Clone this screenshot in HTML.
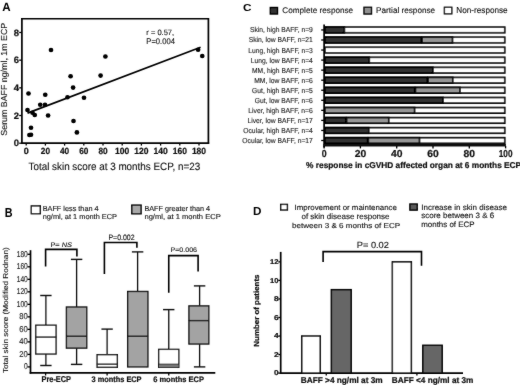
<!DOCTYPE html>
<html><head><meta charset="utf-8"><style>
html,body{margin:0;padding:0;background:#fff;}
svg{display:block;font-family:"Liberation Sans", sans-serif;will-change:transform;text-rendering:geometricPrecision;}
</style></head><body>
<svg width="520" height="385" viewBox="0 0 520 385">
<defs><filter id="bl" x="0" y="0" width="520" height="385" filterUnits="userSpaceOnUse"><feConvolveMatrix order="3" kernelMatrix="1 2 1 2 40 2 1 2 1" divisor="52" edgeMode="duplicate"/></filter></defs>
<rect width="520" height="385" fill="#fff"/>
<g filter="url(#bl)">
<text x="2.35" y="11.07" font-size="11.95" font-weight="700" fill="#000" stroke="#000" stroke-width="0" textLength="8.40" lengthAdjust="spacingAndGlyphs">A</text>
<polyline points="21.90,18.75 208.40,18.75 208.40,143.00" fill="none" stroke="#000" stroke-width="1.7" stroke-linejoin="miter" stroke-linecap="square"/>
<line x1="21.90" y1="18.00" x2="21.90" y2="143.80" stroke="#000" stroke-width="1.7"/>
<line x1="21.10" y1="143.20" x2="209.20" y2="143.20" stroke="#000" stroke-width="1.7"/>
<line x1="19.20" y1="143.20" x2="21.90" y2="143.20" stroke="#000" stroke-width="1.3"/>
<text x="13.75" y="146.27" font-size="9.20" font-weight="700" fill="#111" stroke="#111" stroke-width="0.22" textLength="5.30" lengthAdjust="spacingAndGlyphs">0</text>
<line x1="19.20" y1="115.52" x2="21.90" y2="115.52" stroke="#000" stroke-width="1.3"/>
<text x="13.75" y="118.59" font-size="9.20" font-weight="700" fill="#111" stroke="#111" stroke-width="0.22" textLength="5.30" lengthAdjust="spacingAndGlyphs">2</text>
<line x1="19.20" y1="87.84" x2="21.90" y2="87.84" stroke="#000" stroke-width="1.3"/>
<text x="13.75" y="90.91" font-size="9.34" font-weight="700" fill="#111" stroke="#111" stroke-width="0.22" textLength="5.30" lengthAdjust="spacingAndGlyphs">4</text>
<line x1="19.20" y1="60.16" x2="21.90" y2="60.16" stroke="#000" stroke-width="1.3"/>
<text x="13.75" y="63.23" font-size="9.20" font-weight="700" fill="#111" stroke="#111" stroke-width="0.22" textLength="5.30" lengthAdjust="spacingAndGlyphs">6</text>
<line x1="19.20" y1="32.48" x2="21.90" y2="32.48" stroke="#000" stroke-width="1.3"/>
<text x="13.75" y="35.55" font-size="9.20" font-weight="700" fill="#111" stroke="#111" stroke-width="0.22" textLength="5.30" lengthAdjust="spacingAndGlyphs">8</text>
<line x1="26.20" y1="143.00" x2="26.20" y2="145.60" stroke="#000" stroke-width="1.3"/>
<text x="23.70" y="154.07" font-size="9.06" font-weight="700" fill="#111" stroke="#111" stroke-width="0.22" textLength="5.00" lengthAdjust="spacingAndGlyphs">0</text>
<line x1="45.40" y1="143.00" x2="45.40" y2="145.60" stroke="#000" stroke-width="1.3"/>
<text x="40.80" y="154.07" font-size="9.06" font-weight="700" fill="#111" stroke="#111" stroke-width="0.22" textLength="9.20" lengthAdjust="spacingAndGlyphs">20</text>
<line x1="64.60" y1="143.00" x2="64.60" y2="145.60" stroke="#000" stroke-width="1.3"/>
<text x="60.00" y="154.07" font-size="9.06" font-weight="700" fill="#111" stroke="#111" stroke-width="0.22" textLength="9.20" lengthAdjust="spacingAndGlyphs">40</text>
<line x1="83.80" y1="143.00" x2="83.80" y2="145.60" stroke="#000" stroke-width="1.3"/>
<text x="79.20" y="154.07" font-size="9.06" font-weight="700" fill="#111" stroke="#111" stroke-width="0.22" textLength="9.20" lengthAdjust="spacingAndGlyphs">60</text>
<line x1="103.00" y1="143.00" x2="103.00" y2="145.60" stroke="#000" stroke-width="1.3"/>
<text x="98.40" y="154.07" font-size="9.06" font-weight="700" fill="#111" stroke="#111" stroke-width="0.22" textLength="9.20" lengthAdjust="spacingAndGlyphs">80</text>
<line x1="122.20" y1="143.00" x2="122.20" y2="145.60" stroke="#000" stroke-width="1.3"/>
<text x="115.10" y="154.07" font-size="9.06" font-weight="700" fill="#111" stroke="#111" stroke-width="0.22" textLength="14.20" lengthAdjust="spacingAndGlyphs">100</text>
<line x1="141.40" y1="143.00" x2="141.40" y2="145.60" stroke="#000" stroke-width="1.3"/>
<text x="134.30" y="154.07" font-size="9.06" font-weight="700" fill="#111" stroke="#111" stroke-width="0.22" textLength="14.20" lengthAdjust="spacingAndGlyphs">120</text>
<line x1="160.60" y1="143.00" x2="160.60" y2="145.60" stroke="#000" stroke-width="1.3"/>
<text x="153.50" y="154.07" font-size="9.06" font-weight="700" fill="#111" stroke="#111" stroke-width="0.22" textLength="14.20" lengthAdjust="spacingAndGlyphs">140</text>
<line x1="179.80" y1="143.00" x2="179.80" y2="145.60" stroke="#000" stroke-width="1.3"/>
<text x="172.70" y="154.07" font-size="9.06" font-weight="700" fill="#111" stroke="#111" stroke-width="0.22" textLength="14.20" lengthAdjust="spacingAndGlyphs">160</text>
<line x1="199.00" y1="143.00" x2="199.00" y2="145.60" stroke="#000" stroke-width="1.3"/>
<text x="191.90" y="154.07" font-size="9.06" font-weight="700" fill="#111" stroke="#111" stroke-width="0.22" textLength="14.20" lengthAdjust="spacingAndGlyphs">180</text>
<text x="28.55" y="169.57" font-size="10.52" font-weight="400" fill="#111" stroke="#111" stroke-width="0.12" textLength="171.60" lengthAdjust="spacingAndGlyphs">Total skin score at 3 months ECP, n=23</text>
<text x="0" y="0" transform="translate(7.28 135.65) rotate(-90)" font-size="8.72" font-weight="400" fill="#111" stroke="#111" stroke-width="0.12" textLength="112.80" lengthAdjust="spacingAndGlyphs">Serum BAFF ng/ml, 1m ECP</text>
<circle cx="51.00" cy="50.00" r="2.35" fill="#000"/>
<circle cx="70.60" cy="76.25" r="2.35" fill="#000"/>
<circle cx="73.10" cy="87.60" r="2.35" fill="#000"/>
<circle cx="28.50" cy="93.50" r="2.35" fill="#000"/>
<circle cx="45.25" cy="94.75" r="2.35" fill="#000"/>
<circle cx="40.25" cy="104.75" r="2.35" fill="#000"/>
<circle cx="45.00" cy="104.75" r="2.35" fill="#000"/>
<circle cx="67.50" cy="97.25" r="2.35" fill="#000"/>
<circle cx="84.00" cy="97.75" r="2.35" fill="#000"/>
<circle cx="27.50" cy="110.00" r="2.35" fill="#000"/>
<circle cx="32.50" cy="112.75" r="2.35" fill="#000"/>
<circle cx="34.75" cy="115.00" r="2.35" fill="#000"/>
<circle cx="48.10" cy="115.50" r="2.35" fill="#000"/>
<circle cx="73.50" cy="121.00" r="2.35" fill="#000"/>
<circle cx="31.00" cy="127.75" r="2.35" fill="#000"/>
<circle cx="76.90" cy="132.40" r="2.35" fill="#000"/>
<circle cx="29.40" cy="135.00" r="2.35" fill="#000"/>
<circle cx="31.00" cy="134.75" r="2.35" fill="#000"/>
<circle cx="100.60" cy="75.60" r="2.35" fill="#000"/>
<circle cx="105.40" cy="56.50" r="2.35" fill="#000"/>
<circle cx="198.10" cy="49.75" r="2.35" fill="#000"/>
<circle cx="202.25" cy="56.00" r="2.35" fill="#000"/>
<line x1="27.50" y1="113.10" x2="200.60" y2="47.25" stroke="#000" stroke-width="1.7"/>
<text x="146.35" y="35.48" font-size="7.70" font-weight="400" fill="#111" stroke="#111" stroke-width="0.12" textLength="27.80" lengthAdjust="spacingAndGlyphs">r = 0.57,</text>
<text x="146.35" y="43.58" font-size="8.20" font-weight="400" fill="#111" stroke="#111" stroke-width="0.12" textLength="28.55" lengthAdjust="spacingAndGlyphs">P=0.004</text>
<text x="242.95" y="10.67" font-size="10.14" font-weight="700" fill="#000" stroke="#000" stroke-width="0" textLength="8.45" lengthAdjust="spacingAndGlyphs">C</text>
<rect x="270.30" y="7.50" width="7.20" height="6.50" fill="#333" stroke="#000" stroke-width="1.4"/>
<text x="282.35" y="12.97" font-size="8.17" font-weight="400" fill="#111" stroke="#111" stroke-width="0.12" textLength="70.80" lengthAdjust="spacingAndGlyphs">Complete response</text>
<rect x="364.00" y="7.30" width="7.50" height="6.70" fill="#909090" stroke="#000" stroke-width="1.4"/>
<text x="376.10" y="12.97" font-size="8.17" font-weight="400" fill="#111" stroke="#111" stroke-width="0.12" textLength="59.05" lengthAdjust="spacingAndGlyphs">Partial response</text>
<rect x="444.40" y="7.30" width="7.40" height="6.50" fill="#fff" stroke="#000" stroke-width="1.4"/>
<text x="456.35" y="12.97" font-size="8.61" font-weight="400" fill="#111" stroke="#111" stroke-width="0.12" textLength="51.30" lengthAdjust="spacingAndGlyphs">Non-response</text>
<rect x="324.95" y="27.15" width="179.80" height="5.60" fill="#fff" stroke="#000" stroke-width="1.7"/>
<rect x="324.95" y="27.15" width="19.45" height="5.60" fill="#333" stroke="#000" stroke-width="1.7"/>
<line x1="321.20" y1="29.95" x2="324.10" y2="29.95" stroke="#000" stroke-width="1.3"/>
<text x="249.95" y="32.43" font-size="7.21" font-weight="400" fill="#222" stroke="#222" stroke-width="0.12" textLength="62.90" lengthAdjust="spacingAndGlyphs">Skin, high BAFF, n=9</text>
<rect x="324.95" y="37.20" width="179.80" height="5.60" fill="#fff" stroke="#000" stroke-width="1.7"/>
<rect x="324.95" y="37.20" width="96.30" height="5.60" fill="#333" stroke="#000" stroke-width="1.7"/>
<rect x="422.10" y="37.20" width="30.40" height="5.60" fill="#969696" stroke="#000" stroke-width="1.7"/>
<line x1="321.20" y1="40.00" x2="324.10" y2="40.00" stroke="#000" stroke-width="1.3"/>
<text x="248.65" y="42.48" font-size="7.21" font-weight="400" fill="#222" stroke="#222" stroke-width="0.12" textLength="64.20" lengthAdjust="spacingAndGlyphs">Skin, low BAFF, n=21</text>
<rect x="324.95" y="47.25" width="179.80" height="5.60" fill="#fff" stroke="#000" stroke-width="1.7"/>
<line x1="321.20" y1="50.05" x2="324.10" y2="50.05" stroke="#000" stroke-width="1.3"/>
<text x="248.25" y="52.52" font-size="7.21" font-weight="400" fill="#222" stroke="#222" stroke-width="0.12" textLength="64.60" lengthAdjust="spacingAndGlyphs">Lung, high BAFF, n=3</text>
<rect x="324.95" y="57.30" width="179.80" height="5.60" fill="#fff" stroke="#000" stroke-width="1.7"/>
<rect x="324.95" y="57.30" width="44.35" height="5.60" fill="#333" stroke="#000" stroke-width="1.7"/>
<line x1="321.20" y1="60.10" x2="324.10" y2="60.10" stroke="#000" stroke-width="1.3"/>
<text x="250.85" y="62.58" font-size="7.21" font-weight="400" fill="#222" stroke="#222" stroke-width="0.12" textLength="62.00" lengthAdjust="spacingAndGlyphs">Lung, low BAFF, n=4</text>
<rect x="324.95" y="67.35" width="179.80" height="5.60" fill="#fff" stroke="#000" stroke-width="1.7"/>
<rect x="324.95" y="67.35" width="107.95" height="5.60" fill="#333" stroke="#000" stroke-width="1.7"/>
<line x1="321.20" y1="70.15" x2="324.10" y2="70.15" stroke="#000" stroke-width="1.3"/>
<text x="252.05" y="72.63" font-size="7.21" font-weight="400" fill="#222" stroke="#222" stroke-width="0.12" textLength="60.80" lengthAdjust="spacingAndGlyphs">MM, high BAFF, n=5</text>
<rect x="324.95" y="77.40" width="179.80" height="5.60" fill="#fff" stroke="#000" stroke-width="1.7"/>
<rect x="324.95" y="77.40" width="102.30" height="5.60" fill="#333" stroke="#000" stroke-width="1.7"/>
<rect x="428.10" y="77.40" width="24.65" height="5.60" fill="#969696" stroke="#000" stroke-width="1.7"/>
<line x1="321.20" y1="80.20" x2="324.10" y2="80.20" stroke="#000" stroke-width="1.3"/>
<text x="254.25" y="82.68" font-size="7.21" font-weight="400" fill="#222" stroke="#222" stroke-width="0.12" textLength="58.60" lengthAdjust="spacingAndGlyphs">MM, low BAFF, n=6</text>
<rect x="324.95" y="87.45" width="179.80" height="5.60" fill="#fff" stroke="#000" stroke-width="1.7"/>
<rect x="324.95" y="87.45" width="89.65" height="5.60" fill="#333" stroke="#000" stroke-width="1.7"/>
<rect x="415.45" y="87.45" width="44.55" height="5.60" fill="#969696" stroke="#000" stroke-width="1.7"/>
<line x1="321.20" y1="90.25" x2="324.10" y2="90.25" stroke="#000" stroke-width="1.3"/>
<text x="252.05" y="92.73" font-size="7.21" font-weight="400" fill="#222" stroke="#222" stroke-width="0.12" textLength="60.80" lengthAdjust="spacingAndGlyphs">Gut, high BAFF, n=5</text>
<rect x="324.95" y="97.50" width="179.80" height="5.60" fill="#fff" stroke="#000" stroke-width="1.7"/>
<rect x="324.95" y="97.50" width="118.15" height="5.60" fill="#333" stroke="#000" stroke-width="1.7"/>
<line x1="321.20" y1="100.30" x2="324.10" y2="100.30" stroke="#000" stroke-width="1.3"/>
<text x="254.75" y="102.78" font-size="7.21" font-weight="400" fill="#222" stroke="#222" stroke-width="0.12" textLength="58.10" lengthAdjust="spacingAndGlyphs">Gut, low BAFF, n=6</text>
<rect x="324.95" y="107.55" width="179.80" height="5.60" fill="#fff" stroke="#000" stroke-width="1.7"/>
<rect x="324.95" y="107.55" width="89.65" height="5.60" fill="#969696" stroke="#000" stroke-width="1.7"/>
<line x1="321.20" y1="110.35" x2="324.10" y2="110.35" stroke="#000" stroke-width="1.3"/>
<text x="248.25" y="112.83" font-size="7.21" font-weight="400" fill="#222" stroke="#222" stroke-width="0.12" textLength="64.60" lengthAdjust="spacingAndGlyphs">Liver, high BAFF, n=6</text>
<rect x="324.95" y="117.60" width="179.80" height="5.60" fill="#fff" stroke="#000" stroke-width="1.7"/>
<rect x="324.95" y="117.60" width="20.80" height="5.60" fill="#333" stroke="#000" stroke-width="1.7"/>
<rect x="346.60" y="117.60" width="42.15" height="5.60" fill="#969696" stroke="#000" stroke-width="1.7"/>
<line x1="321.20" y1="120.40" x2="324.10" y2="120.40" stroke="#000" stroke-width="1.3"/>
<text x="247.45" y="122.88" font-size="7.21" font-weight="400" fill="#222" stroke="#222" stroke-width="0.12" textLength="65.40" lengthAdjust="spacingAndGlyphs">Liver, low BAFF, n=17</text>
<rect x="324.95" y="127.65" width="179.80" height="5.60" fill="#fff" stroke="#000" stroke-width="1.7"/>
<rect x="324.95" y="127.65" width="43.80" height="5.60" fill="#333" stroke="#000" stroke-width="1.7"/>
<line x1="321.20" y1="130.45" x2="324.10" y2="130.45" stroke="#000" stroke-width="1.3"/>
<text x="243.25" y="132.92" font-size="7.21" font-weight="400" fill="#222" stroke="#222" stroke-width="0.12" textLength="69.60" lengthAdjust="spacingAndGlyphs">Ocular, high BAFF, n=4</text>
<rect x="324.95" y="137.70" width="179.80" height="5.60" fill="#fff" stroke="#000" stroke-width="1.7"/>
<rect x="324.95" y="137.70" width="42.55" height="5.60" fill="#333" stroke="#000" stroke-width="1.7"/>
<rect x="368.35" y="137.70" width="51.15" height="5.60" fill="#969696" stroke="#000" stroke-width="1.7"/>
<line x1="321.20" y1="140.50" x2="324.10" y2="140.50" stroke="#000" stroke-width="1.3"/>
<text x="242.35" y="142.97" font-size="7.21" font-weight="400" fill="#222" stroke="#222" stroke-width="0.12" textLength="70.50" lengthAdjust="spacingAndGlyphs">Ocular, low BAFF, n=17</text>
<line x1="324.10" y1="24.50" x2="324.10" y2="147.50" stroke="#000" stroke-width="1.7"/>
<line x1="323.30" y1="145.20" x2="505.90" y2="145.20" stroke="#111" stroke-width="2.4"/>
<line x1="324.10" y1="146.00" x2="324.10" y2="148.40" stroke="#000" stroke-width="1.3"/>
<text x="321.65" y="156.88" font-size="10.06" font-weight="700" fill="#111" stroke="#111" stroke-width="0.22" textLength="4.90" lengthAdjust="spacingAndGlyphs">0</text>
<line x1="360.40" y1="146.00" x2="360.40" y2="148.40" stroke="#000" stroke-width="1.3"/>
<text x="354.65" y="156.88" font-size="10.06" font-weight="700" fill="#111" stroke="#111" stroke-width="0.22" textLength="11.50" lengthAdjust="spacingAndGlyphs">20</text>
<line x1="396.70" y1="146.00" x2="396.70" y2="148.40" stroke="#000" stroke-width="1.3"/>
<text x="390.95" y="156.88" font-size="10.06" font-weight="700" fill="#111" stroke="#111" stroke-width="0.22" textLength="11.50" lengthAdjust="spacingAndGlyphs">40</text>
<line x1="433.00" y1="146.00" x2="433.00" y2="148.40" stroke="#000" stroke-width="1.3"/>
<text x="427.25" y="156.88" font-size="10.06" font-weight="700" fill="#111" stroke="#111" stroke-width="0.22" textLength="11.50" lengthAdjust="spacingAndGlyphs">60</text>
<line x1="469.30" y1="146.00" x2="469.30" y2="148.40" stroke="#000" stroke-width="1.3"/>
<text x="463.55" y="156.88" font-size="10.06" font-weight="700" fill="#111" stroke="#111" stroke-width="0.22" textLength="11.50" lengthAdjust="spacingAndGlyphs">80</text>
<line x1="505.60" y1="146.00" x2="505.60" y2="148.40" stroke="#000" stroke-width="1.3"/>
<text x="498.75" y="156.88" font-size="10.06" font-weight="700" fill="#111" stroke="#111" stroke-width="0.22" textLength="13.70" lengthAdjust="spacingAndGlyphs">100</text>
<text x="306.10" y="167.88" font-size="8.45" font-weight="700" fill="#111" stroke="#111" stroke-width="0.22" textLength="215.05" lengthAdjust="spacingAndGlyphs">% response in cGVHD affected organ at 6 months ECP</text>
<text x="4.85" y="216.97" font-size="13.12" font-weight="700" fill="#000" stroke="#000" stroke-width="0" textLength="7.80" lengthAdjust="spacingAndGlyphs">B</text>
<rect x="31.30" y="205.90" width="9.00" height="7.80" fill="#fff" stroke="#000" stroke-width="1.4"/>
<text x="42.65" y="210.57" font-size="7.34" font-weight="400" fill="#111" stroke="#111" stroke-width="0.12" textLength="56.00" lengthAdjust="spacingAndGlyphs">BAFF less than 4</text>
<text x="42.65" y="218.88" font-size="7.21" font-weight="400" fill="#111" stroke="#111" stroke-width="0.12" textLength="74.40" lengthAdjust="spacingAndGlyphs">ng/ml, at 1 month ECP</text>
<rect x="131.80" y="205.10" width="9.30" height="8.70" fill="#a8a8a8" stroke="#000" stroke-width="1.4"/>
<text x="144.45" y="210.57" font-size="7.34" font-weight="400" fill="#111" stroke="#111" stroke-width="0.12" textLength="65.60" lengthAdjust="spacingAndGlyphs">BAFF greater than 4</text>
<text x="144.45" y="218.88" font-size="7.21" font-weight="400" fill="#111" stroke="#111" stroke-width="0.12" textLength="76.30" lengthAdjust="spacingAndGlyphs">ng/ml, at 1 month ECP</text>
<line x1="30.50" y1="250.20" x2="30.50" y2="373.70" stroke="#000" stroke-width="1.7"/>
<line x1="29.70" y1="372.90" x2="215.30" y2="372.90" stroke="#000" stroke-width="1.7"/>
<line x1="27.40" y1="366.90" x2="30.50" y2="366.90" stroke="#000" stroke-width="1.3"/>
<text x="24.05" y="369.47" font-size="8.49" font-weight="400" fill="#222" stroke="#222" stroke-width="0.12" textLength="3.70" lengthAdjust="spacingAndGlyphs">0</text>
<line x1="27.40" y1="354.39" x2="30.50" y2="354.39" stroke="#000" stroke-width="1.3"/>
<text x="19.25" y="356.96" font-size="8.49" font-weight="400" fill="#222" stroke="#222" stroke-width="0.12" textLength="8.50" lengthAdjust="spacingAndGlyphs">20</text>
<line x1="27.40" y1="341.88" x2="30.50" y2="341.88" stroke="#000" stroke-width="1.3"/>
<text x="19.25" y="344.45" font-size="8.49" font-weight="400" fill="#222" stroke="#222" stroke-width="0.12" textLength="8.50" lengthAdjust="spacingAndGlyphs">40</text>
<line x1="27.40" y1="329.36" x2="30.50" y2="329.36" stroke="#000" stroke-width="1.3"/>
<text x="19.25" y="331.94" font-size="8.49" font-weight="400" fill="#222" stroke="#222" stroke-width="0.12" textLength="8.50" lengthAdjust="spacingAndGlyphs">60</text>
<line x1="27.40" y1="316.85" x2="30.50" y2="316.85" stroke="#000" stroke-width="1.3"/>
<text x="19.25" y="319.43" font-size="8.49" font-weight="400" fill="#222" stroke="#222" stroke-width="0.12" textLength="8.50" lengthAdjust="spacingAndGlyphs">80</text>
<line x1="27.40" y1="304.34" x2="30.50" y2="304.34" stroke="#000" stroke-width="1.3"/>
<text x="16.75" y="306.91" font-size="8.49" font-weight="400" fill="#222" stroke="#222" stroke-width="0.12" textLength="11.00" lengthAdjust="spacingAndGlyphs">100</text>
<line x1="27.40" y1="291.83" x2="30.50" y2="291.83" stroke="#000" stroke-width="1.3"/>
<text x="16.75" y="294.40" font-size="8.49" font-weight="400" fill="#222" stroke="#222" stroke-width="0.12" textLength="11.00" lengthAdjust="spacingAndGlyphs">120</text>
<line x1="27.40" y1="279.32" x2="30.50" y2="279.32" stroke="#000" stroke-width="1.3"/>
<text x="16.75" y="281.89" font-size="8.49" font-weight="400" fill="#222" stroke="#222" stroke-width="0.12" textLength="11.00" lengthAdjust="spacingAndGlyphs">140</text>
<line x1="27.40" y1="266.80" x2="30.50" y2="266.80" stroke="#000" stroke-width="1.3"/>
<text x="16.75" y="269.38" font-size="8.49" font-weight="400" fill="#222" stroke="#222" stroke-width="0.12" textLength="11.00" lengthAdjust="spacingAndGlyphs">160</text>
<line x1="27.40" y1="254.29" x2="30.50" y2="254.29" stroke="#000" stroke-width="1.3"/>
<text x="16.75" y="256.87" font-size="8.49" font-weight="400" fill="#222" stroke="#222" stroke-width="0.12" textLength="11.00" lengthAdjust="spacingAndGlyphs">180</text>
<text x="0" y="0" transform="translate(7.67 373.05) rotate(-90)" font-size="7.21" font-weight="400" fill="#111" stroke="#111" stroke-width="0.12" textLength="125.70" lengthAdjust="spacingAndGlyphs">Total skin score (Modified Rodnan)</text>
<line x1="45.90" y1="295.50" x2="45.90" y2="325.20" stroke="#111" stroke-width="1.3"/>
<line x1="40.20" y1="295.50" x2="51.60" y2="295.50" stroke="#111" stroke-width="1.4"/>
<line x1="45.90" y1="354.00" x2="45.90" y2="365.50" stroke="#111" stroke-width="1.3"/>
<line x1="40.20" y1="365.50" x2="51.60" y2="365.50" stroke="#111" stroke-width="1.4"/>
<rect x="35.77" y="325.18" width="20.30" height="28.85" fill="#fff" stroke="#111" stroke-width="1.35"/>
<line x1="35.60" y1="337.10" x2="56.25" y2="337.10" stroke="#111" stroke-width="1.4"/>
<line x1="76.60" y1="259.40" x2="76.60" y2="307.00" stroke="#111" stroke-width="1.3"/>
<line x1="70.90" y1="259.40" x2="82.30" y2="259.40" stroke="#111" stroke-width="1.4"/>
<line x1="76.60" y1="348.10" x2="76.60" y2="364.40" stroke="#111" stroke-width="1.3"/>
<line x1="70.90" y1="364.40" x2="82.30" y2="364.40" stroke="#111" stroke-width="1.4"/>
<rect x="66.42" y="306.98" width="20.30" height="41.15" fill="#a3a3a3" stroke="#111" stroke-width="1.35"/>
<line x1="66.25" y1="336.25" x2="86.90" y2="336.25" stroke="#111" stroke-width="1.4"/>
<line x1="107.10" y1="329.10" x2="107.10" y2="354.70" stroke="#111" stroke-width="1.3"/>
<line x1="101.40" y1="329.10" x2="112.80" y2="329.10" stroke="#111" stroke-width="1.4"/>
<rect x="97.08" y="354.68" width="20.25" height="12.60" fill="#fff" stroke="#111" stroke-width="1.35"/>
<line x1="96.90" y1="364.20" x2="117.50" y2="364.20" stroke="#111" stroke-width="1.4"/>
<line x1="137.60" y1="251.90" x2="137.60" y2="291.50" stroke="#111" stroke-width="1.3"/>
<line x1="131.90" y1="251.90" x2="143.30" y2="251.90" stroke="#111" stroke-width="1.4"/>
<rect x="127.67" y="291.48" width="20.25" height="75.45" fill="#a3a3a3" stroke="#111" stroke-width="1.35"/>
<line x1="127.50" y1="336.25" x2="148.10" y2="336.25" stroke="#111" stroke-width="1.4"/>
<line x1="168.75" y1="309.60" x2="168.75" y2="349.40" stroke="#111" stroke-width="1.3"/>
<line x1="163.05" y1="309.60" x2="174.45" y2="309.60" stroke="#111" stroke-width="1.4"/>
<rect x="158.68" y="349.38" width="20.15" height="17.90" fill="#fff" stroke="#111" stroke-width="1.35"/>
<line x1="158.50" y1="364.40" x2="179.00" y2="364.40" stroke="#111" stroke-width="1.4"/>
<rect x="159.00" y="364.40" width="19.50" height="2.85" fill="#777"/>
<line x1="199.60" y1="285.90" x2="199.60" y2="305.90" stroke="#111" stroke-width="1.3"/>
<line x1="193.90" y1="285.90" x2="205.30" y2="285.90" stroke="#111" stroke-width="1.4"/>
<line x1="199.60" y1="344.00" x2="199.60" y2="366.90" stroke="#111" stroke-width="1.3"/>
<line x1="193.90" y1="366.90" x2="205.30" y2="366.90" stroke="#111" stroke-width="1.4"/>
<rect x="188.93" y="305.88" width="19.90" height="38.15" fill="#a3a3a3" stroke="#111" stroke-width="1.35"/>
<line x1="188.75" y1="320.60" x2="209.00" y2="320.60" stroke="#111" stroke-width="1.4"/>
<polyline points="45.60,265.60 45.60,249.40 76.90,249.40 76.90,255.60" fill="none" stroke="#000" stroke-width="1.6" stroke-linejoin="miter" stroke-linecap="square"/>
<polyline points="104.40,273.10 104.40,242.50 136.90,242.50 136.90,246.90" fill="none" stroke="#000" stroke-width="1.6" stroke-linejoin="miter" stroke-linecap="square"/>
<polyline points="168.75,291.90 168.75,255.60 198.10,255.60 198.10,270.60" fill="none" stroke="#000" stroke-width="1.6" stroke-linejoin="miter" stroke-linecap="square"/>
<text x="50.45" y="246.97" font-size="6.63" font-weight="400" fill="#111" stroke="#111" stroke-width="0.12" textLength="21.60" lengthAdjust="spacingAndGlyphs">P= <tspan font-style="italic">NS</tspan></text>
<text x="108.45" y="239.88" font-size="7.77" font-weight="400" fill="#111" stroke="#111" stroke-width="0.12" textLength="26.20" lengthAdjust="spacingAndGlyphs">P=0.002</text>
<text x="170.45" y="251.97" font-size="6.63" font-weight="400" fill="#111" stroke="#111" stroke-width="0.12" textLength="26.60" lengthAdjust="spacingAndGlyphs">P=0.006</text>
<line x1="45.60" y1="372.90" x2="45.60" y2="375.50" stroke="#000" stroke-width="1.3"/>
<line x1="107.10" y1="372.90" x2="107.10" y2="375.50" stroke="#000" stroke-width="1.3"/>
<line x1="168.75" y1="372.90" x2="168.75" y2="375.50" stroke="#000" stroke-width="1.3"/>
<text x="41.55" y="382.07" font-size="8.49" font-weight="700" fill="#111" stroke="#111" stroke-width="0.22" textLength="29.40" lengthAdjust="spacingAndGlyphs">Pre-ECP</text>
<text x="91.55" y="381.97" font-size="8.03" font-weight="700" fill="#111" stroke="#111" stroke-width="0.22" textLength="50.00" lengthAdjust="spacingAndGlyphs">3 months ECP</text>
<text x="153.15" y="381.97" font-size="7.90" font-weight="700" fill="#111" stroke="#111" stroke-width="0.22" textLength="50.90" lengthAdjust="spacingAndGlyphs">6 months ECP</text>
<text x="252.95" y="214.82" font-size="11.74" font-weight="700" fill="#000" stroke="#000" stroke-width="0" textLength="8.45" lengthAdjust="spacingAndGlyphs">D</text>
<rect x="280.70" y="204.40" width="6.70" height="5.60" fill="#fff" stroke="#000" stroke-width="1.4"/>
<text x="294.50" y="209.67" font-size="7.62" font-weight="400" fill="#111" stroke="#111" stroke-width="0.12" textLength="102.45" lengthAdjust="spacingAndGlyphs">Improvement or maintenance</text>
<text x="301.45" y="218.77" font-size="7.90" font-weight="400" fill="#111" stroke="#111" stroke-width="0.12" textLength="88.10" lengthAdjust="spacingAndGlyphs">of skin disease response</text>
<text x="291.95" y="227.67" font-size="7.21" font-weight="400" fill="#111" stroke="#111" stroke-width="0.12" textLength="108.20" lengthAdjust="spacingAndGlyphs">between 3 &amp; 6 months of ECP</text>
<rect x="409.90" y="204.00" width="7.30" height="6.10" fill="#5a5a5a" stroke="#000" stroke-width="1.4"/>
<text x="421.25" y="210.07" font-size="7.76" font-weight="400" fill="#111" stroke="#111" stroke-width="0.12" textLength="85.70" lengthAdjust="spacingAndGlyphs">Increase in skin disease</text>
<text x="421.25" y="218.47" font-size="7.76" font-weight="400" fill="#111" stroke="#111" stroke-width="0.12" textLength="72.90" lengthAdjust="spacingAndGlyphs">score between 3 &amp; 6</text>
<text x="421.25" y="226.88" font-size="7.76" font-weight="400" fill="#111" stroke="#111" stroke-width="0.12" textLength="53.20" lengthAdjust="spacingAndGlyphs">months of ECP</text>
<line x1="280.70" y1="251.90" x2="280.70" y2="373.90" stroke="#000" stroke-width="1.7"/>
<line x1="279.90" y1="373.10" x2="463.00" y2="373.10" stroke="#000" stroke-width="1.7"/>
<line x1="278.30" y1="373.10" x2="280.70" y2="373.10" stroke="#000" stroke-width="1.3"/>
<text x="273.90" y="375.38" font-size="7.06" font-weight="700" fill="#111" stroke="#111" stroke-width="0.22" textLength="4.65" lengthAdjust="spacingAndGlyphs">0</text>
<line x1="278.30" y1="354.56" x2="280.70" y2="354.56" stroke="#000" stroke-width="1.3"/>
<text x="273.90" y="356.83" font-size="7.06" font-weight="700" fill="#111" stroke="#111" stroke-width="0.22" textLength="4.65" lengthAdjust="spacingAndGlyphs">2</text>
<line x1="278.30" y1="336.02" x2="280.70" y2="336.02" stroke="#000" stroke-width="1.3"/>
<text x="273.90" y="338.30" font-size="7.16" font-weight="700" fill="#111" stroke="#111" stroke-width="0.22" textLength="4.65" lengthAdjust="spacingAndGlyphs">4</text>
<line x1="278.30" y1="317.48" x2="280.70" y2="317.48" stroke="#000" stroke-width="1.3"/>
<text x="273.90" y="319.75" font-size="7.06" font-weight="700" fill="#111" stroke="#111" stroke-width="0.22" textLength="4.65" lengthAdjust="spacingAndGlyphs">6</text>
<line x1="278.30" y1="298.94" x2="280.70" y2="298.94" stroke="#000" stroke-width="1.3"/>
<text x="273.90" y="301.22" font-size="7.06" font-weight="700" fill="#111" stroke="#111" stroke-width="0.22" textLength="4.65" lengthAdjust="spacingAndGlyphs">8</text>
<line x1="278.30" y1="280.40" x2="280.70" y2="280.40" stroke="#000" stroke-width="1.3"/>
<text x="270.05" y="282.68" font-size="7.06" font-weight="700" fill="#111" stroke="#111" stroke-width="0.22" textLength="8.50" lengthAdjust="spacingAndGlyphs">10</text>
<line x1="278.30" y1="261.86" x2="280.70" y2="261.86" stroke="#000" stroke-width="1.3"/>
<text x="270.05" y="264.13" font-size="7.06" font-weight="700" fill="#111" stroke="#111" stroke-width="0.22" textLength="8.50" lengthAdjust="spacingAndGlyphs">12</text>
<text x="0" y="0" transform="translate(258.97 346.65) rotate(-90)" font-size="7.34" font-weight="700" fill="#111" stroke="#111" stroke-width="0.22" textLength="72.10" lengthAdjust="spacingAndGlyphs">Number of patients</text>
<rect x="301.75" y="336.02" width="18.50" height="37.08" fill="#fff" stroke="#000" stroke-width="1.5"/>
<rect x="331.35" y="289.67" width="19.80" height="83.43" fill="#666" stroke="#000" stroke-width="1.5"/>
<rect x="392.35" y="261.86" width="19.00" height="111.24" fill="#fff" stroke="#000" stroke-width="1.5"/>
<rect x="422.85" y="345.29" width="19.30" height="27.81" fill="#666" stroke="#000" stroke-width="1.5"/>
<polyline points="323.10,261.25 323.10,251.60 421.50,251.60 421.50,265.00" fill="none" stroke="#000" stroke-width="1.6" stroke-linejoin="miter" stroke-linecap="square"/>
<text x="356.75" y="247.97" font-size="8.92" font-weight="400" fill="#111" stroke="#111" stroke-width="0.12" textLength="32.15" lengthAdjust="spacingAndGlyphs">P= 0.02</text>
<line x1="326.25" y1="373.10" x2="326.25" y2="375.60" stroke="#000" stroke-width="1.3"/>
<line x1="416.90" y1="373.10" x2="416.90" y2="375.60" stroke="#000" stroke-width="1.3"/>
<text x="300.75" y="382.68" font-size="8.45" font-weight="700" fill="#111" stroke="#111" stroke-width="0.22" textLength="81.90" lengthAdjust="spacingAndGlyphs">BAFF &gt;4 ng/ml at 3m</text>
<text x="391.85" y="382.68" font-size="8.45" font-weight="700" fill="#111" stroke="#111" stroke-width="0.22" textLength="81.50" lengthAdjust="spacingAndGlyphs">BAFF &lt;4 ng/ml at 3m</text>
</g>
</svg>
</body></html>
